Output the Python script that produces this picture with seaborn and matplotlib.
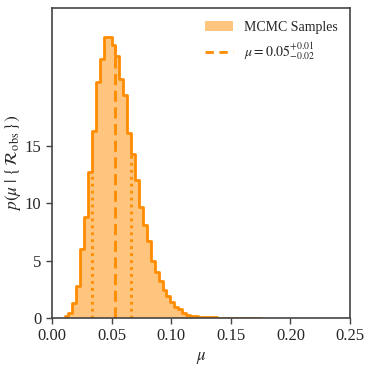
import matplotlib
matplotlib.use("Agg")
import matplotlib.pyplot as plt
import seaborn as sns
import numpy as np
import pandas as pd

from matplotlib.patches import Patch
from matplotlib.lines import Line2D

# histograma das amostras MCMC (densidade por bin)
bin_start = 0.0105
bin_width = 0.00329
density = [0.15, 0.45, 1.35, 2.8, 6.0, 8.8, 12.7, 16.3, 20.6, 22.6,
           24.5, 24.5, 23.8, 22.8, 20.8, 19.4, 16.1, 14.3, 12.0, 9.7,
           8.1, 6.7, 5.0, 4.0, 3.26, 2.45, 1.92, 1.43, 1.0, 0.76,
           0.46, 0.26, 0.18, 0.14, 0.11, 0.09, 0.07, 0.06, 0.05, 0.04,
           0.03, 0.03, 0.02, 0.02, 0.02, 0.01, 0.01, 0.01, 0.01, 0.01]

# mediana e limites
mu_median = 0.0526
mu_lower = 0.0335
mu_upper = 0.0665

edges = bin_start + bin_width * np.arange(len(density) + 1)
df = pd.DataFrame({"mu": (edges[:-1] + edges[1:]) / 2, "density": density})

sns.set_style("ticks")
plt.rcParams["font.family"] = ["Liberation Serif", "DejaVu Serif"]
plt.rcParams["mathtext.fontset"] = "stix"

color = "darkorange"

fig = plt.figure(figsize=(3.7, 3.7), dpi=100)
ax = fig.add_axes([0.1405, 0.1405, 0.8055, 0.8375])

# preenchimento
sns.histplot(df, x="mu", weights="density", bins=list(edges), element="bars",
             color=color, alpha=0.5, linewidth=0, ax=ax)
# contorno
sns.histplot(df, x="mu", weights="density", bins=list(edges), element="step",
             fill=False, color=color, linewidth=2, ax=ax)

def height_at(x):
    i = np.searchsorted(edges, x) - 1
    return density[i]

ax.vlines(mu_median, 0, height_at(mu_median), colors=color, linestyles=(0, (4, 2)), linewidth=2)
for x in (mu_lower, mu_upper):
    ax.vlines(x, 0, height_at(x), colors=color, linestyles=(0, (1, 1.5)), linewidth=2)

ax.set_xlim(0, 0.25)
ax.set_ylim(0, 27)
ax.set_xticks([0.0, 0.05, 0.10, 0.15, 0.20, 0.25])
ax.set_xticklabels([f"{t:.2f}" for t in [0.0, 0.05, 0.10, 0.15, 0.20, 0.25]])
ax.set_yticks([0, 5, 10, 15])

ax.set_xlabel(r"$\mu$", fontsize=12)
ax.set_ylabel(r"$p(\mu\;|\;\{\,\mathcal{R}_{\rm obs}\,\})$", fontsize=12.5, labelpad=1)
ax.tick_params(axis="both", labelsize=12, length=4, width=1, color="#444444", direction="out")
for spine in ax.spines.values():
    spine.set_color("#444444")
    spine.set_linewidth(1.2)

err_hi = mu_upper - mu_median
err_lo = mu_median - mu_lower
handles = [
    Patch(facecolor=color, alpha=0.5, edgecolor="none"),
    Line2D([0], [0], color=color, linestyle=(0, (3, 2)), linewidth=2),
]
labels = ["MCMC Samples", rf"$\mu = {mu_median:.2f}^{{+{err_hi:.2f}}}_{{-{err_lo:.2f}}}$"]
ax.legend(handles, labels, loc="upper right", frameon=False, fontsize=10)

fig.savefig("out.png", dpi=100)
